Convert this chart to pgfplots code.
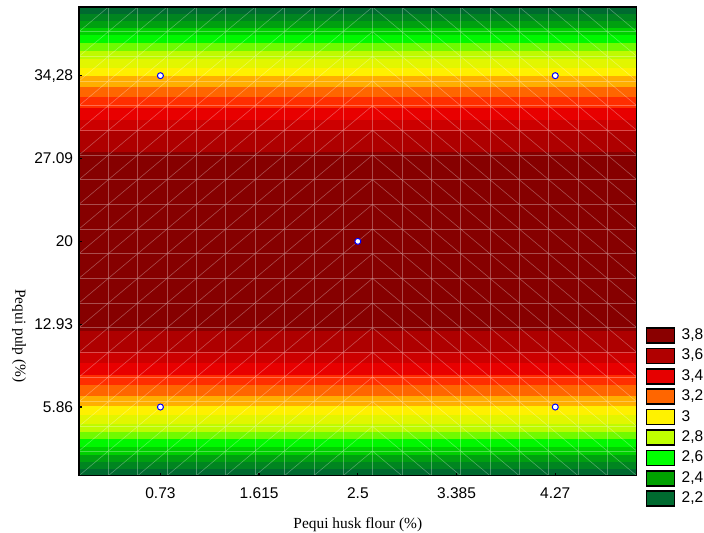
\documentclass[border=0pt]{standalone}
\usepackage{pgfplots}
\pgfplotsset{compat=1.18}
\usepackage{fontspec}
\setmainfont{Liberation Sans}
\newfontfamily\timesfont{Liberation Serif}
% band colours (0.1 steps, outer -> centre)
\definecolor{b22}{HTML}{006A30}
\definecolor{b23}{HTML}{008520}
\definecolor{b24}{HTML}{00A010}
\definecolor{b25}{HTML}{00D000}
\definecolor{b26}{HTML}{00F800}
\definecolor{b27}{HTML}{70FA00}
\definecolor{b28}{HTML}{BFFA00}
\definecolor{b29}{HTML}{E2F600}
\definecolor{b30}{HTML}{FFF000}
\definecolor{b31}{HTML}{FFAE00}
\definecolor{b32}{HTML}{FF6600}
\definecolor{b33}{HTML}{FF2E00}
\definecolor{b34}{HTML}{E80000}
\definecolor{b35}{HTML}{CC0000}
\definecolor{b36}{HTML}{AE0000}
\definecolor{b37}{HTML}{860000}
% legend colours
\definecolor{l38}{HTML}{8A0000}
\definecolor{l36}{HTML}{B00000}
\definecolor{l34}{HTML}{E60000}
\definecolor{l32}{HTML}{FF6600}
\definecolor{l30}{HTML}{FFF200}
\definecolor{l28}{HTML}{BFFF00}
\definecolor{l26}{HTML}{00FF00}
\definecolor{l24}{HTML}{00A000}
\definecolor{l22}{HTML}{006A30}
\begin{document}
\begin{tikzpicture}
\useasboundingbox (-79bp,-57.3bp) rectangle (625bp,475.7bp);
\begin{axis}[
  at={(0,0)}, anchor=south west,
  scale only axis, width=557.7bp, height=468.7bp,
  xmin=0, xmax=5, ymin=0, ymax=40,
  axis on top,
  axis line style={line width=1.3bp, black},
  xtick={0.73,1.615,2.5,3.385,4.27},
  xticklabels={0.73,1.615,2.5,3.385,4.27},
  ytick={5.86,12.93,20,27.07,34.14},
  yticklabels={5.86,12.93,20,27.09,{34,28}},
  xtick pos=bottom, ytick pos=left,
  tick align=inside, major tick length=3bp,
  tick style={line width=1.3bp, black},
  tick label style={font=\fontsize{15.5bp}{18bp}\selectfont},
  xticklabel style={anchor=base, yshift=-22.6bp},
  yticklabel style={anchor=east, xshift=-2.4bp},
  xlabel={Pequi husk flour (\%)},
  ylabel={Pequi pulp (\%)},
  every axis label/.append style={font=\timesfont\fontsize{15.4bp}{18bp}\selectfont, inner sep=0pt},
  every axis x label/.style={at={(rel axis cs:0.5,0)}, anchor=base, yshift=-52.6bp},
  every axis y label/.style={at={(rel axis cs:0,0.298)}, anchor=center, xshift=-60bp, rotate=-90},
  legend image code/.code={\draw[#1, line width=1.5bp] (0bp,-7.5bp) rectangle (27.6bp,7.5bp);},
  legend cell align=left,
  legend style={at={(rel axis cs:1.01659,0.31673)}, anchor=north west, draw=none, fill=none,
    inner sep=0pt, outer sep=0pt, row sep=3.9bp, column sep=6.6bp,
    nodes={inner sep=0pt, text height=11bp, text depth=3bp, font=\fontsize{15.5bp}{18bp}\selectfont}},
]
% filled bands: each rectangle covers |y-20| < d, drawn from outside in
\addplot[forget plot, fill=b22, draw=none] coordinates {(0,0) (5,0) (5,40) (0,40)};
\addplot[forget plot, fill=b23, draw=none] coordinates {(0,0.61) (5,0.61) (5,39.39) (0,39.39)};
\addplot[forget plot, fill=b24, draw=none] coordinates {(0,1.19) (5,1.19) (5,38.81) (0,38.81)};
\addplot[forget plot, fill=b25, draw=none] coordinates {(0,1.78) (5,1.78) (5,38.22) (0,38.22)};
\addplot[forget plot, fill=b26, draw=none] coordinates {(0,2.42) (5,2.42) (5,37.58) (0,37.58)};
\addplot[forget plot, fill=b27, draw=none] coordinates {(0,3.09) (5,3.09) (5,36.91) (0,36.91)};
\addplot[forget plot, fill=b28, draw=none] coordinates {(0,3.75) (5,3.75) (5,36.25) (0,36.25)};
\addplot[forget plot, fill=b29, draw=none] coordinates {(0,4.44) (5,4.44) (5,35.56) (0,35.56)};
\addplot[forget plot, fill=b30, draw=none] coordinates {(0,5.20) (5,5.20) (5,34.80) (0,34.80)};
\addplot[forget plot, fill=b31, draw=none] coordinates {(0,5.93) (5,5.93) (5,34.07) (0,34.07)};
\addplot[forget plot, fill=b32, draw=none] coordinates {(0,6.81) (5,6.81) (5,33.19) (0,33.19)};
\addplot[forget plot, fill=b33, draw=none] coordinates {(0,7.71) (5,7.71) (5,32.29) (0,32.29)};
\addplot[forget plot, fill=b34, draw=none] coordinates {(0,8.60) (5,8.60) (5,31.40) (0,31.40)};
\addplot[forget plot, fill=b35, draw=none] coordinates {(0,9.66) (5,9.66) (5,30.34) (0,30.34)};
\addplot[forget plot, fill=b36, draw=none] coordinates {(0,10.59) (5,10.59) (5,29.41) (0,29.41)};
\addplot[forget plot, fill=b37, draw=none] coordinates {(0,12.38) (5,12.38) (5,27.62) (0,27.62)};
% triangulation mesh (vertical and horizontal grid lines)
\addplot[forget plot, white, opacity=0.3, line width=0.6bp, unbounded coords=jump] table {
x y
0.26316 0
0.26316 40
nan nan
0.52632 0
0.52632 40
nan nan
0.78947 0
0.78947 40
nan nan
1.05263 0
1.05263 40
nan nan
1.31579 0
1.31579 40
nan nan
1.57895 0
1.57895 40
nan nan
1.84211 0
1.84211 40
nan nan
2.10526 0
2.10526 40
nan nan
2.36842 0
2.36842 40
nan nan
2.63158 0
2.63158 40
nan nan
2.89474 0
2.89474 40
nan nan
3.15789 0
3.15789 40
nan nan
3.42105 0
3.42105 40
nan nan
3.68421 0
3.68421 40
nan nan
3.94737 0
3.94737 40
nan nan
4.21053 0
4.21053 40
nan nan
4.47368 0
4.47368 40
nan nan
4.73684 0
4.73684 40
nan nan
0 2.10526
5 2.10526
nan nan
0 4.21053
5 4.21053
nan nan
0 6.31579
5 6.31579
nan nan
0 8.42105
5 8.42105
nan nan
0 10.52632
5 10.52632
nan nan
0 12.63158
5 12.63158
nan nan
0 14.73684
5 14.73684
nan nan
0 16.84211
5 16.84211
nan nan
0 18.94737
5 18.94737
nan nan
0 21.05263
5 21.05263
nan nan
0 23.15789
5 23.15789
nan nan
0 25.26316
5 25.26316
nan nan
0 27.36842
5 27.36842
nan nan
0 29.47368
5 29.47368
nan nan
0 31.57895
5 31.57895
nan nan
0 33.68421
5 33.68421
nan nan
0 35.78947
5 35.78947
nan nan
0 37.89474
5 37.89474
};
% triangulation mesh (diagonals)
\addplot[forget plot, white, opacity=0.3, line width=0.6bp, unbounded coords=jump] table {
x y
0 -18.9474
2.63158 2.1053
nan nan
0 -16.8421
2.63158 4.2105
nan nan
0 -14.7368
2.63158 6.3158
nan nan
0 -12.6316
2.63158 8.4211
nan nan
0 -10.5263
2.63158 10.5263
nan nan
0 -8.4211
2.63158 12.6316
nan nan
0 -6.3158
2.63158 14.7368
nan nan
0 -4.2105
2.63158 16.8421
nan nan
0 -2.1053
2.63158 18.9474
nan nan
0 0
2.63158 21.0526
nan nan
0 2.1053
2.63158 23.1579
nan nan
0 4.2105
2.63158 25.2632
nan nan
0 6.3158
2.63158 27.3684
nan nan
0 8.4211
2.63158 29.4737
nan nan
0 10.5263
2.63158 31.5789
nan nan
0 12.6316
2.63158 33.6842
nan nan
0 14.7368
2.63158 35.7895
nan nan
0 16.8421
2.63158 37.8947
nan nan
0 18.9474
2.63158 40
nan nan
0 21.0526
2.63158 42.1053
nan nan
0 23.1579
2.63158 44.2105
nan nan
0 25.2632
2.63158 46.3158
nan nan
0 27.3684
2.63158 48.4211
nan nan
0 29.4737
2.63158 50.5263
nan nan
0 31.5789
2.63158 52.6316
nan nan
0 33.6842
2.63158 54.7368
nan nan
0 35.7895
2.63158 56.8421
nan nan
0 37.8947
2.63158 58.9474
nan nan
2.63158 2.1053
5 -16.8421
nan nan
2.63158 4.2105
5 -14.7368
nan nan
2.63158 6.3158
5 -12.6316
nan nan
2.63158 8.4211
5 -10.5263
nan nan
2.63158 10.5263
5 -8.4211
nan nan
2.63158 12.6316
5 -6.3158
nan nan
2.63158 14.7368
5 -4.2105
nan nan
2.63158 16.8421
5 -2.1053
nan nan
2.63158 18.9474
5 0
nan nan
2.63158 21.0526
5 2.1053
nan nan
2.63158 23.1579
5 4.2105
nan nan
2.63158 25.2632
5 6.3158
nan nan
2.63158 27.3684
5 8.4211
nan nan
2.63158 29.4737
5 10.5263
nan nan
2.63158 31.5789
5 12.6316
nan nan
2.63158 33.6842
5 14.7368
nan nan
2.63158 35.7895
5 16.8421
nan nan
2.63158 37.8947
5 18.9474
nan nan
2.63158 40
5 21.0526
nan nan
2.63158 42.1053
5 23.1579
nan nan
2.63158 44.2105
5 25.2632
nan nan
2.63158 46.3158
5 27.3684
nan nan
2.63158 48.4211
5 29.4737
nan nan
2.63158 50.5263
5 31.5789
nan nan
2.63158 52.6316
5 33.6842
nan nan
2.63158 54.7368
5 35.7895
nan nan
2.63158 56.8421
5 37.8947
};
% design points
\addplot[forget plot, only marks, mark=*, mark size=3bp, mark options={fill=white, draw=blue, line width=1bp}]
  coordinates {(0.73,5.86) (4.27,5.86) (0.73,34.14) (4.27,34.14) (2.5,20)};
% legend
\addlegendimage{fill=l38, draw=black}\addlegendentry{3,8}
\addlegendimage{fill=l36, draw=black}\addlegendentry{3,6}
\addlegendimage{fill=l34, draw=black}\addlegendentry{3,4}
\addlegendimage{fill=l32, draw=black}\addlegendentry{3,2}
\addlegendimage{fill=l30, draw=black}\addlegendentry{3}
\addlegendimage{fill=l28, draw=black}\addlegendentry{2,8}
\addlegendimage{fill=l26, draw=black}\addlegendentry{2,6}
\addlegendimage{fill=l24, draw=black}\addlegendentry{2,4}
\addlegendimage{fill=l22, draw=black}\addlegendentry{2,2}
\end{axis}
\end{tikzpicture}
\end{document}
